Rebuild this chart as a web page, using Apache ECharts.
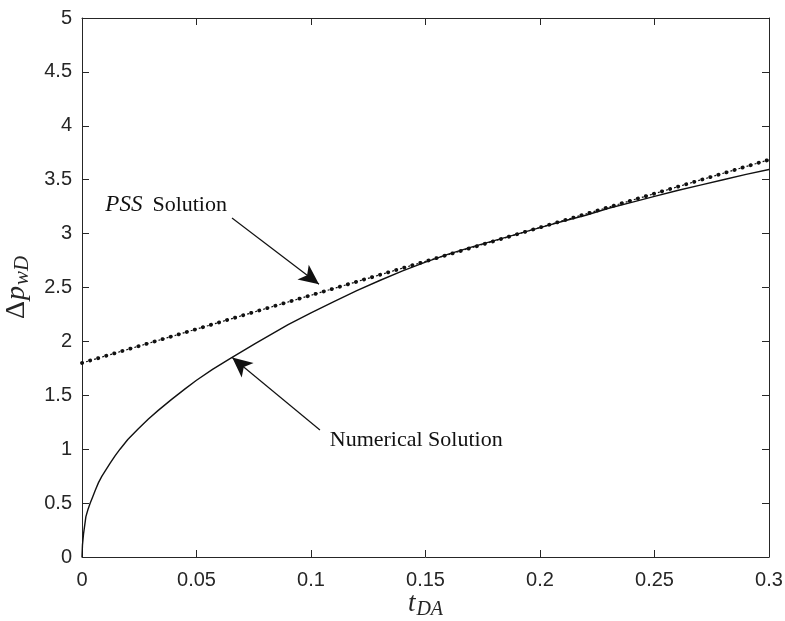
<!DOCTYPE html>
<html><head><meta charset="utf-8">
<script src="https://cdn.jsdelivr.net/npm/echarts@6/dist/echarts.min.js"></script>
<style>html,body{margin:0;padding:0;background:#fff}#c{width:785px;height:621px}</style>
</head><body><div id="c"></div>
<script>
// Numerical solution
const numT = [0, 0.0002, 0.0007, 0.0017, 0.0026, 0.0036, 0.0047, 0.0058, 0.0072, 0.0087, 0.0105, 0.0123, 0.0145, 0.0166, 0.02, 0.0246, 0.029, 0.0333, 0.039, 0.045, 0.05, 0.057, 0.065, 0.0756, 0.09, 0.1, 0.11, 0.12, 0.13, 0.14, 0.15, 0.16, 0.17, 0.18, 0.19, 0.2, 0.21, 0.22, 0.23, 0.24, 0.25, 0.26, 0.27, 0.28, 0.29, 0.3];
const numV = [0, 0.11, 0.22, 0.375, 0.44, 0.5, 0.56, 0.62, 0.69, 0.75, 0.81, 0.87, 0.94, 1.0, 1.09, 1.19, 1.28, 1.36, 1.46, 1.56, 1.64, 1.74, 1.845, 1.98, 2.155, 2.265, 2.37, 2.47, 2.565, 2.655, 2.735, 2.81, 2.875, 2.935, 2.995, 3.055, 3.115, 3.17, 3.235, 3.29, 3.345, 3.40, 3.45, 3.50, 3.55, 3.595];
// PSS solution straight line end points
const pssT = [0, 0.3];
const pssV = [1.8, 3.685];
// tick labels
const xTicks = [0, 0.05, 0.1, 0.15, 0.2, 0.25, 0.3];
const yTicks = [0, 0.5, 1, 1.5, 2, 2.5, 3, 3.5, 4, 4.5, 5];
// annotations (data coords)
const pssLabel = {t: 0.0102, v: 3.265};
const pssArrow = [[0.0655, 3.145], [0.1035, 2.53]];
const numLabel = {t: 0.1082, v: 1.085};
const numArrow = [[0.1039, 1.178], [0.0656, 1.85]];

const axisColor = '#262626';
const tickFont = {fontFamily: 'Liberation Sans, Arial, sans-serif', fontSize: 20, color: axisColor};
const serif = 'Liberation Serif, DejaVu Serif, serif';

const numData = numT.map((t, i) => [t, numV[i]]);
const pssData = pssT.map((t, i) => [t, pssV[i]]);

const fmt = v => String(+v.toFixed(2));

const chart = echarts.init(document.getElementById('c'));
chart.setOption({
  animation: false,
  backgroundColor: '#fff',
  grid: {left: 82, right: 16, top: 18, bottom: 64, show: false, containLabel: false, outerBoundsMode: 'none'},
  xAxis: [{
    type: 'value', min: xTicks[0], max: xTicks[xTicks.length - 1], interval: 0.05,
    axisLine: {show: true, onZero: false, lineStyle: {color: axisColor, width: 1}},
    axisTick: {show: true, inside: true, length: 7, lineStyle: {color: axisColor}},
    splitLine: {show: false},
    axisLabel: Object.assign({margin: 13, formatter: fmt}, tickFont),
    name: '{t|t}{s|DA}', nameLocation: 'middle', nameGap: 30, nameMoveOverlap: false,
    nameTextStyle: {rich: {
      t: {fontFamily: serif, fontStyle: 'italic', fontSize: 27, color: axisColor},
      s: {fontFamily: serif, fontStyle: 'italic', fontSize: 20, color: axisColor, padding: [13, 0, 0, 1]}
    }}
  }, {
    type: 'value', position: 'top', min: xTicks[0], max: xTicks[xTicks.length - 1], interval: 0.05,
    axisLine: {show: true, onZero: false, lineStyle: {color: axisColor, width: 1}},
    axisTick: {show: true, inside: true, length: 7, lineStyle: {color: axisColor}},
    axisLabel: {show: false}, splitLine: {show: false}
  }],
  yAxis: [{
    type: 'value', min: yTicks[0], max: yTicks[yTicks.length - 1], interval: 0.5,
    axisLine: {show: true, onZero: false, lineStyle: {color: axisColor, width: 1}},
    axisTick: {show: true, inside: true, length: 7, lineStyle: {color: axisColor}},
    splitLine: {show: false},
    axisLabel: Object.assign({margin: 10, formatter: fmt}, tickFont),
    name: '{d|Δ}{p|p}{s|wD}', nameLocation: 'middle', nameGap: 45, nameRotate: 90,
    nameTextStyle: {rich: {
      d: {fontFamily: serif, fontSize: 28, color: axisColor, padding: [0, 1, 0, 0]},
      p: {fontFamily: serif, fontStyle: 'italic', fontSize: 28, color: axisColor},
      s: {fontFamily: serif, fontStyle: 'italic', fontSize: 21, color: axisColor, padding: [13, 0, 0, 1]}
    }}
  }, {
    type: 'value', position: 'right', min: yTicks[0], max: yTicks[yTicks.length - 1], interval: 0.5,
    axisLine: {show: true, onZero: false, lineStyle: {color: axisColor, width: 1}},
    axisTick: {show: true, inside: true, length: 7, lineStyle: {color: axisColor}},
    axisLabel: {show: false}, splitLine: {show: false}
  }],
  series: [
    {
      type: 'line', data: numData, smooth: false, showSymbol: false,
      lineStyle: {color: '#111', width: 1.4},
      markLine: {
        silent: true, symbol: ['none', 'arrow'], symbolSize: [14, 20],
        lineStyle: {color: '#111', width: 1.2, type: 'solid'},
        label: {show: false},
        data: [
          [{coord: pssArrow[0]}, {coord: pssArrow[1]}],
          [{coord: numArrow[0]}, {coord: numArrow[1]}]
        ]
      },
      markPoint: {
        silent: true, symbolSize: 0,
        data: [
          {coord: [pssLabel.t, pssLabel.v], label: {show: true, position: 'right', distance: 0,
            formatter: '{i|PSS}{n|Solution}',
            rich: {i: {fontFamily: serif, fontStyle: 'italic', fontSize: 23, color: '#111', padding: [0, 10, 0, 0]},
                   n: {fontFamily: serif, fontSize: 22, color: '#111'}}}},
          {coord: [numLabel.t, numLabel.v], label: {show: true, position: 'right', distance: 0,
            formatter: 'Numerical Solution', fontFamily: serif, fontSize: 22, color: '#111'}}
        ]
      }
    },
    {
      type: 'line', data: pssData, showSymbol: false,
      lineStyle: {color: '#111', width: 1.2, type: [2, 2.2]}
    },
    {
      type: 'line', data: pssData, showSymbol: false,
      lineStyle: {color: '#111', width: 3.8, type: [0.1, 8.3], cap: 'round'}
    }
  ]
});
</script></body></html>
